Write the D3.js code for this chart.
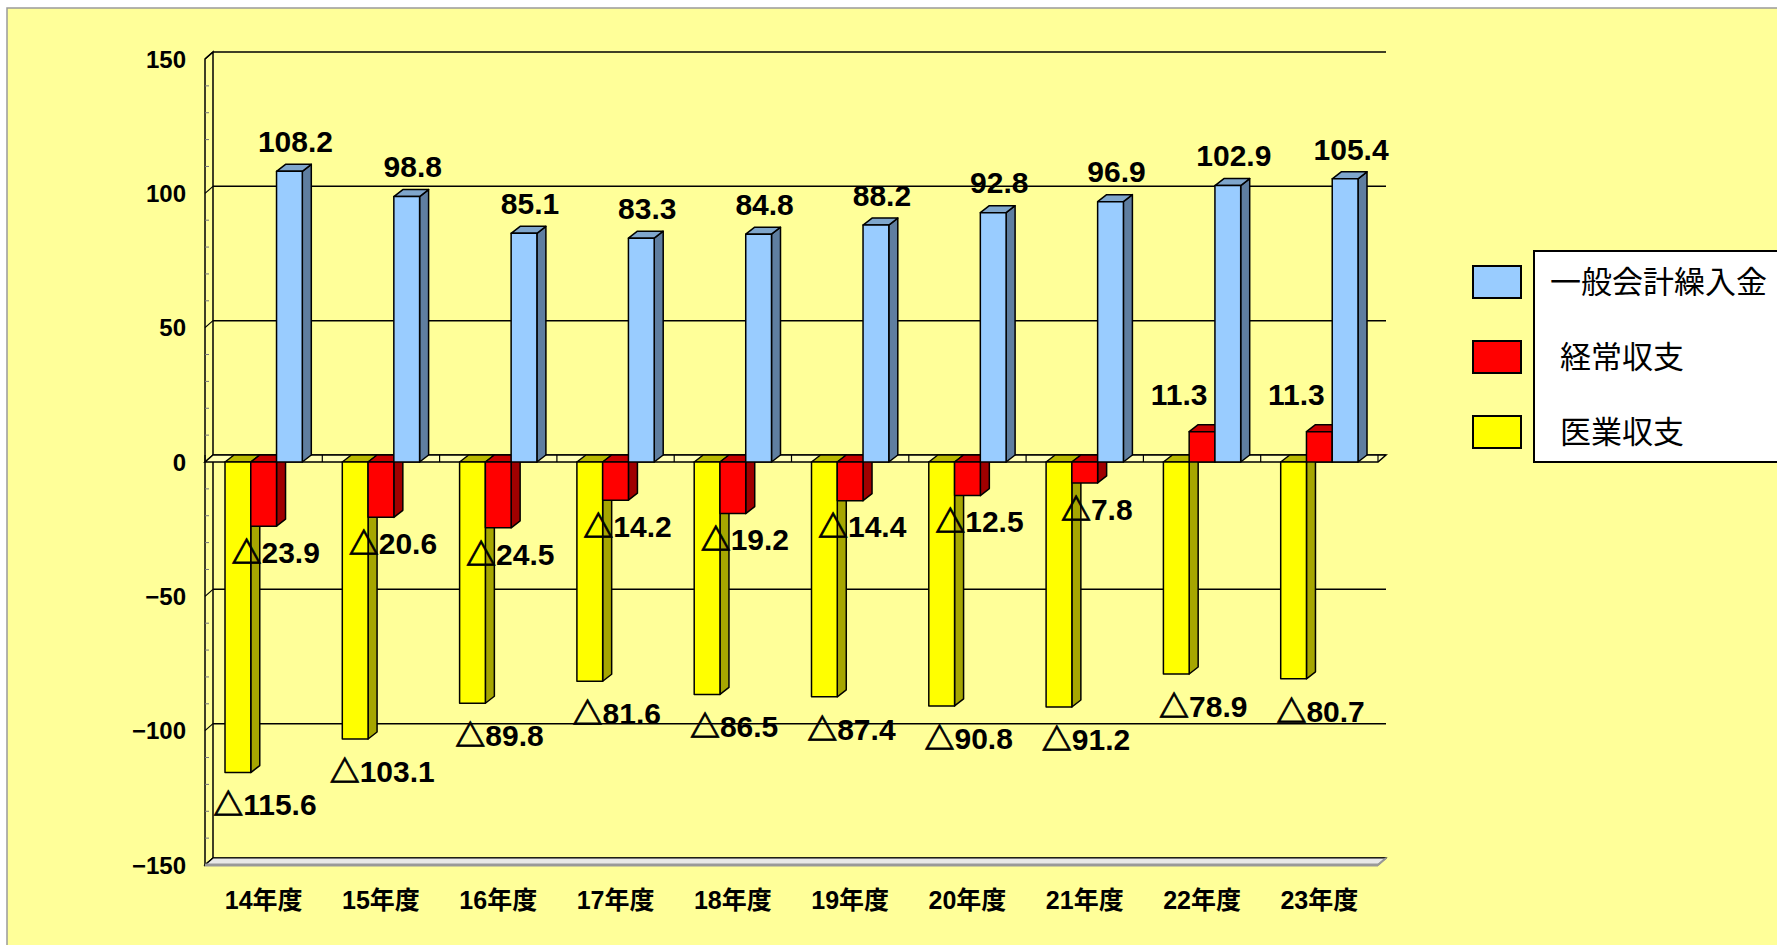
<!DOCTYPE html>
<html><head><meta charset="utf-8">
<script src="https://cdn.jsdelivr.net/npm/d3@7/dist/d3.min.js"></script>
<style>html,body{margin:0;padding:0;background:#fff;overflow:hidden}</style>
</head><body>
<svg id="chart" width="1777" height="945"></svg>
<script>
// ---- data ----
const categories = ['14年度','15年度','16年度','17年度','18年度','19年度','20年度','21年度','22年度','23年度'];
const ippanKurire = [108.2, 98.8, 85.1, 83.3, 84.8, 88.2, 92.8, 96.9, 102.9, 105.4]; // 一般会計繰入金
const keijoShushi = [-23.9, -20.6, -24.5, -14.2, -19.2, -14.4, -12.5, -7.8, 11.3, 11.3]; // 経常収支
const iryoShushi  = [-115.6, -103.1, -89.8, -81.6, -86.5, -87.4, -90.8, -91.2, -78.9, -80.7]; // 医業収支
const seriesNames = ['一般会計繰入金', '経常収支', '医業収支'];
const yTicks = [150, 100, 50, 0, -50, -100, -150];

// ---- styles ----
const colors = {
  '一般会計繰入金': {front:'#99CCFF', side:'#5F7EA0', top:'#7FA6CC'},
  '経常収支':       {front:'#FF0000', side:'#A00000', top:'#C80000'},
  '医業収支':       {front:'#FFFF00', side:'#A6A600', top:'#B8B800'}
};
const seriesValues = {'一般会計繰入金': ippanKurire, '経常収支': keijoShushi, '医業収支': iryoShushi};
const clusterOrder = ['医業収支', '経常収支', '一般会計繰入金'];

const svg = d3.select('#chart');
const W = 1777, H = 945;
const WDX = 8, WDY = 7;   // wall depth
const BDX = 9, BDY = 7;   // bar depth

// background
svg.append('rect').attr('x',7).attr('y',8).attr('width',W).attr('height',H)
  .attr('fill','#FFFF99').attr('stroke','#9a9a9a').attr('stroke-width',1.5);

// scales (back plane for y)
const y = d3.scaleLinear().domain([-150,150]).range([858,52]);
const backX0 = 213, backX1 = 1386;
const x = d3.scaleBand().domain(categories).range([backX0 - WDX, backX1 - WDX]); // front plane
const xs = d3.scaleBand().domain(clusterOrder).range([20, x.bandwidth() - 20]);

const g = svg.append('g');

// gridlines on back wall
g.selectAll('line.grid').data(yTicks).join('line')
  .attr('x1', backX0).attr('x2', backX1)
  .attr('y1', d => y(d)).attr('y2', d => y(d))
  .attr('stroke','#000').attr('stroke-width',1.5);

// left side wall
const wallL = backX0 - WDX;
g.append('path')
  .attr('d', `M${wallL},${y(150)+WDY} L${backX0},${y(150)} L${backX0},${y(-150)} L${wallL},${y(-150)+WDY} Z`)
  .attr('fill','#FFFF99').attr('stroke','#000').attr('stroke-width',1.5);
const minor = d3.range(-150, 151, 10).filter(v => v % 50 !== 0);
g.selectAll('line.minor').data(minor).join('line')
  .attr('x1', wallL).attr('x2', wallL + 4)
  .attr('y1', d => y(d)+WDY).attr('y2', d => y(d)+WDY)
  .attr('stroke','#777').attr('stroke-width',1);
g.selectAll('line.wtick').data(yTicks).join('line')
  .attr('x1', wallL).attr('y1', d => y(d)+WDY)
  .attr('x2', backX0).attr('y2', d => y(d))
  .attr('stroke','#000').attr('stroke-width',1.2);

// floor slab at -150
g.append('path')
  .attr('d', `M${wallL},${y(-150)+WDY} L${backX0},${y(-150)} L${backX1},${y(-150)} L${backX1-WDX},${y(-150)+WDY} Z`)
  .attr('fill','#e8e8e8').attr('stroke','#000').attr('stroke-width',1.2);
g.append('line').attr('x1', wallL).attr('x2', backX1-WDX)
  .attr('y1', y(-150)+WDY).attr('y2', y(-150)+WDY)
  .attr('stroke','#999').attr('stroke-width',3);
g.append('line').attr('x1', backX1-WDX).attr('y1', y(-150)+WDY)
  .attr('x2', backX1).attr('y2', y(-150))
  .attr('stroke','#999').attr('stroke-width',2);

// zero axis band
g.append('path')
  .attr('d', `M${wallL},${y(0)+WDY} L${backX0},${y(0)} L${backX1},${y(0)} L${backX1-WDX},${y(0)+WDY} Z`)
  .attr('fill','#FFFFB8').attr('stroke','#000').attr('stroke-width',1.5);
g.selectAll('line.ztick').data(d3.range(categories.length+1)).join('line')
  .attr('x1', i => x.range()[0] + i*x.step()).attr('x2', i => x.range()[0] + i*x.step())
  .attr('y1', y(0)).attr('y2', y(0)+WDY)
  .attr('stroke','#000').attr('stroke-width',1.2);

// bars
function drawBar(parent, x0, w, v, c) {
  const yF0 = y(0) + WDY, yF1 = y(v) + WDY;
  const t = Math.min(yF0, yF1), b = Math.max(yF0, yF1);
  const bg = parent.append('g').attr('stroke','#000').attr('stroke-width',1.5).attr('stroke-linejoin','round');
  bg.append('path').attr('fill', c.side)
    .attr('d', `M${x0+w},${t} L${x0+w+BDX},${t-BDY} L${x0+w+BDX},${b-BDY} L${x0+w},${b} Z`);
  bg.append('path').attr('fill', c.top)
    .attr('d', `M${x0},${t} L${x0+BDX},${t-BDY} L${x0+w+BDX},${t-BDY} L${x0+w},${t} Z`);
  bg.append('rect').attr('fill', c.front)
    .attr('x', x0).attr('y', t).attr('width', w).attr('height', b - t);
}
const barsG = g.append('g');
categories.forEach((cat, i) => {
  clusterOrder.forEach(s => {
    drawBar(barsG, x(cat) + xs(s), xs.bandwidth(), seriesValues[s][i], colors[s]);
  });
});

// data labels
const lblFont = '"Liberation Sans", Arial, "Noto Sans CJK JP", sans-serif';
const labelsG = g.append('g').attr('font-family', lblFont).attr('font-weight','bold')
  .attr('font-size', 30).attr('text-anchor','middle').attr('fill','#000');
function addLabel(lx, ly, v) {
  const t = labelsG.append('text').attr('x', lx).attr('y', ly).attr('dy','0.36em');
  if (v < 0) {
    t.append('tspan').attr('font-family','"Noto Sans CJK JP", sans-serif').attr('font-weight', 900)
      .attr('stroke','#000').attr('stroke-width',0.8).text('△');
    t.append('tspan').text(Math.abs(v).toFixed(1));
  } else {
    t.text(v.toFixed(1));
  }
}
categories.forEach((cat, i) => {
  clusterOrder.forEach(s => {
    const v = seriesValues[s][i];
    const cx = x(cat) + xs(s) + xs.bandwidth()/2;
    let lx, ly;
    if (s === '一般会計繰入金') { lx = cx + 6; ly = y(v) - 23; }
    else if (s === '経常収支') {
      if (v >= 0) { lx = cx - 23; ly = y(v) - 30; }
      else { lx = cx + 12; ly = y(v) + 33; }
    } else { lx = cx + 27; ly = y(v) + 39; }
    addLabel(lx, ly, v);
  });
});

// y axis tick labels
g.append('g').attr('font-family', lblFont).attr('font-weight','bold').attr('font-size', 24)
  .attr('text-anchor','end')
  .selectAll('text').data(yTicks).join('text')
  .attr('x', 186).attr('y', d => y(d) + WDY).attr('dy','0.36em')
  .text(d => d < 0 ? '−' + Math.abs(d) : String(d));

// x axis category labels
g.append('g').attr('font-family', lblFont)
  .attr('font-weight','bold').attr('font-size', 25).attr('text-anchor','middle')
  .selectAll('text').data(categories).join('text')
  .attr('x', d => x(d) + x.bandwidth()/2).attr('y', 900).attr('dy','0.36em')
  .text(d => d);

// legend
const lg = svg.append('g');
lg.append('rect').attr('x',1534).attr('y',251).attr('width',300).attr('height',211)
  .attr('fill','#fff').attr('stroke','#000').attr('stroke-width',2);
const legendItems = seriesNames.map((n, k) => ({name: n, k}));
lg.selectAll('rect.sw').data(legendItems).join('rect')
  .attr('x',1473).attr('y', d => 266 + d.k*75).attr('width',48).attr('height',32)
  .attr('fill', d => colors[d.name].front).attr('stroke','#000').attr('stroke-width',2);
lg.selectAll('text').data(legendItems).join('text')
  .attr('x', d => d.k === 0 ? 1550 : 1560).attr('y', d => 282 + d.k*75).attr('dy','0.36em')
  .attr('font-family','"Noto Sans CJK JP", sans-serif').attr('font-size',31).attr('fill','#000')
  .text(d => d.name);
</script>
</body></html>
